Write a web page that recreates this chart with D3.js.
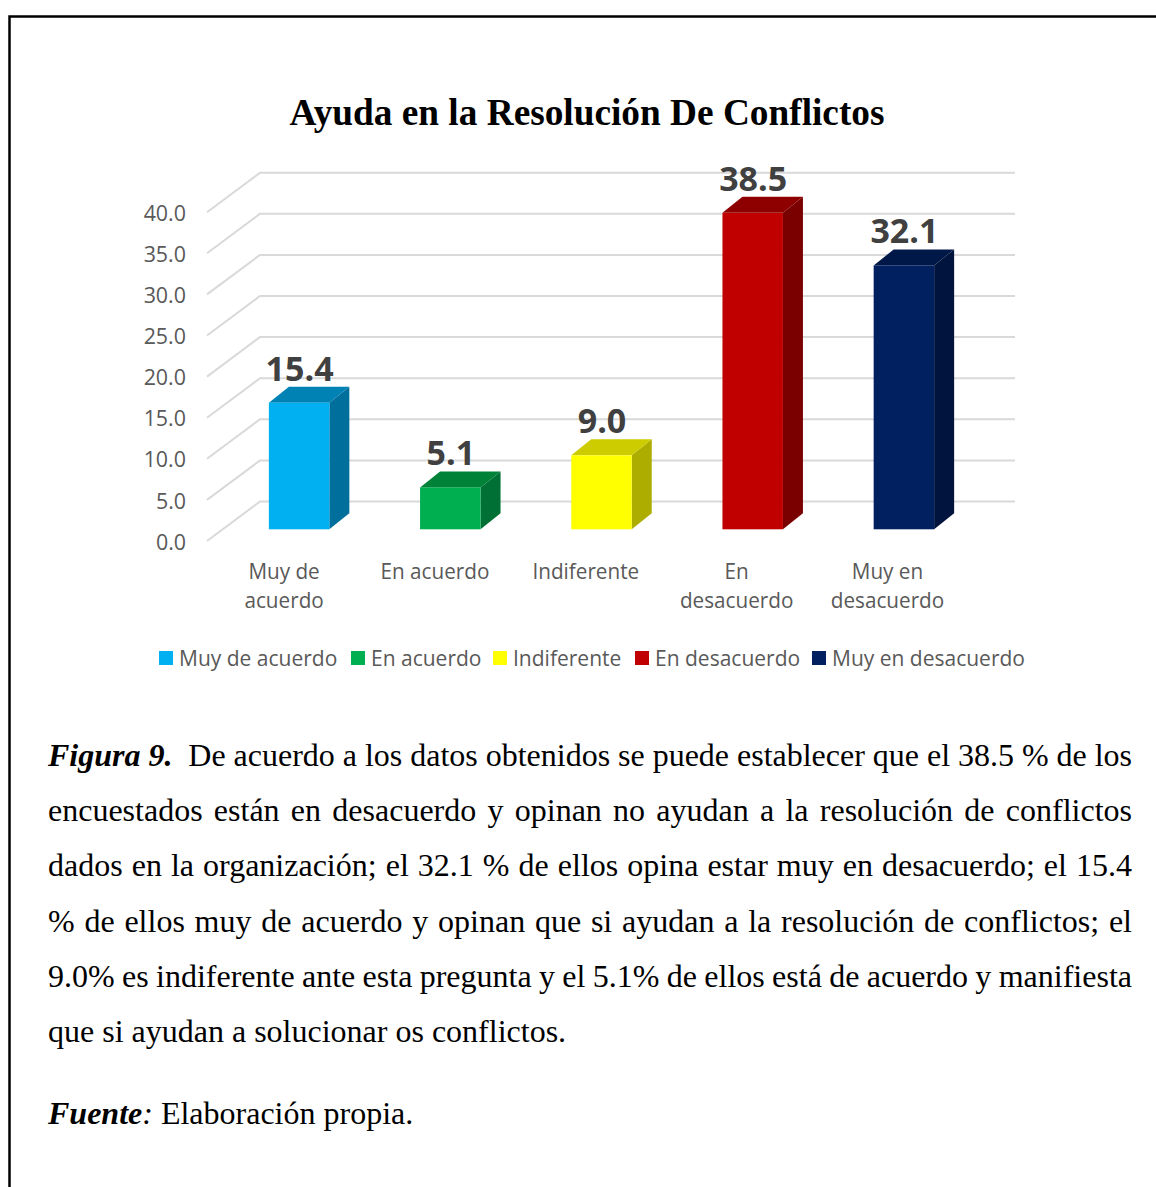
<!DOCTYPE html>
<html><head><meta charset="utf-8">
<script src="https://cdn.jsdelivr.net/npm/d3@7"></script>
<style>html,body{margin:0;padding:0;background:#fff}svg{display:block}</style>
</head><body><svg id="c" width="1156" height="1187"></svg>
<script>
const titleText = "Ayuda en la Resolución De Conflictos";
const categories = ["Muy de acuerdo","En acuerdo","Indiferente","En desacuerdo","Muy en desacuerdo"];
const axisLabels = [["Muy de","acuerdo"],["En acuerdo"],["Indiferente"],["En","desacuerdo"],["Muy en","desacuerdo"]];
const values = [15.4,5.1,9.0,38.5,32.1];
const ticks = [0,5,10,15,20,25,30,35,40];
const frontColors = ["#00B0F0","#00B050","#FFFF00","#C00000","#002060"];
const topColors = ["#0083B4","#008239","#CCCC00","#8E0000","#001847"];
const sideColors = ["#006F9B","#007034","#ADAD00","#7A0000","#00143D"];
const legendX = [159,351,493,635,812];
const captionLines = [
 [["Figura 9.",1],["  De acuerdo a los datos obtenidos se puede establecer que el 38.5 % de los",0]],
 [["encuestados están en desacuerdo y opinan no ayudan a la resolución de conflictos",0]],
 [["dados en la organización; el 32.1 % de ellos opina estar muy en desacuerdo; el 15.4",0]],
 [["% de ellos muy de acuerdo y opinan que si ayudan a la resolución de conflictos; el",0]],
 [["9.0% es indiferente ante esta pregunta y el 5.1% de ellos está de acuerdo y manifiesta",0]]
];
const lastLine = "que si ayudan a solucionar os conflictos.";
const captionY = [766,821,876,932,987,1042];

const svg = d3.select("#c");
const CAL = "'Open Sans',sans-serif", SERIF = "'Liberation Serif',serif";
const fit = (sel,r)=>sel.each(function(){
  this.setAttribute("textLength",this.getComputedTextLength()*r);
  this.setAttribute("lengthAdjust","spacingAndGlyphs");
});

// frame
svg.append("path").attr("d","M9.5,1187V16.5H1156").attr("fill","none").attr("stroke","#000").attr("stroke-width",2.5);

svg.append("text").attr("x",587).attr("y",125).attr("text-anchor","middle")
  .attr("font-family",SERIF).attr("font-weight","bold").attr("font-size",37.3).attr("fill","#000").text(titleText);

const y = d3.scaleLinear().domain([0,40]).range([529.3,200.5]);
const x = d3.scaleBand().domain(categories).range([223.5,979.5]).paddingInner(0.6).paddingOuter(0.3);
const depth = {dx:20,dy:-16}, wall = {dx:53,dy:-39.5}, frontOff = 11.7, wallRight = 1015, wallLeft = 207;

// grid
const grid = svg.append("g").attr("fill","none").attr("stroke","#D9D9D9").attr("stroke-width",2);
ticks.forEach(t=>{
  const yf=y(t)+frontOff;
  grid.append("path").attr("d",`M${wallLeft},${yf}L${wallLeft+wall.dx},${yf+wall.dy}H${wallRight}`);
});

// y axis
const ax = svg.append("g").attr("transform",`translate(186,${frontOff+0.6})`)
  .call(d3.axisLeft(y).tickValues(ticks).tickSize(0).tickPadding(0).tickFormat(d3.format(".1f")));
ax.select(".domain").remove();
ax.selectAll("text").attr("font-family",CAL).attr("font-size",21).attr("fill","#595959").attr("dy","0.36em").call(fit,1.02);

// bars
const bars = svg.append("g").selectAll("g").data(categories).join("g");
bars.each(function(c,i){
  const g=d3.select(this), x0=x(c), x1=x0+x.bandwidth(), yt=y(values[i]), yb=y(0);
  g.append("path").attr("fill",sideColors[i]).attr("d",`M${x1},${yt}L${x1+depth.dx},${yt+depth.dy}V${yb+depth.dy}L${x1},${yb}Z`);
  g.append("path").attr("fill",topColors[i]).attr("d",`M${x0},${yt}L${x0+depth.dx},${yt+depth.dy}H${x1+depth.dx}L${x1},${yt}Z`);
  g.append("rect").attr("x",x0).attr("y",yt).attr("width",x.bandwidth()).attr("height",yb-yt).attr("fill",frontColors[i]);
  g.append("text").attr("x",x0+x.bandwidth()/2+0.5).attr("y",yt-22).attr("text-anchor","middle")
    .attr("font-family",CAL).attr("font-weight","bold").attr("font-size",34).attr("fill","#404040")
    .text(d3.format(".1f")(values[i])).call(fit,1.0);
  axisLabels[i].forEach((l,k)=>{
    g.append("text").attr("x",x0+x.bandwidth()/2-15-i*0.35).attr("y",579+k*29).attr("text-anchor","middle")
      .attr("class","cat").attr("font-family",CAL).attr("font-size",21).attr("fill","#595959").text(l);
  });
});
svg.selectAll(".cat").call(fit,0.985);

// legend
categories.forEach((c,i)=>{
  svg.append("rect").attr("x",legendX[i]).attr("y",651).attr("width",14).attr("height",14).attr("fill",frontColors[i]);
  svg.append("text").attr("x",legendX[i]+20).attr("y",666).attr("font-family",CAL).attr("font-size",21)
    .attr("fill","#595959").text(c).call(fit,1.0);
});

// caption
const capG = svg.append("g").attr("font-family",SERIF).attr("font-size",32).attr("fill","#000");
const L=48,R=1132;
captionLines.forEach((runs,i)=>{
  const t=capG.append("text").attr("x",L).attr("y",captionY[i]).attr("xml:space","preserve").style("white-space","pre");
  runs.forEach(([s,b])=>{
    const ts=t.append("tspan").text(s);
    if(b) ts.attr("font-weight","bold").attr("font-style","italic");
  });
  const w=t.node().getComputedTextLength();
  const spaces=runs.map(r=>r[0]).join("").split(" ").length-1;
  t.attr("word-spacing",(R-L-w)/spaces);
});
capG.append("text").attr("x",L).attr("y",captionY[5]).text(lastLine);
const f=capG.append("text").attr("x",L).attr("y",1124);
f.append("tspan").attr("font-weight","bold").attr("font-style","italic").text("Fuente");
f.append("tspan").attr("font-style","italic").text(":");
f.append("tspan").text(" Elaboración propia.");
</script></body></html>
